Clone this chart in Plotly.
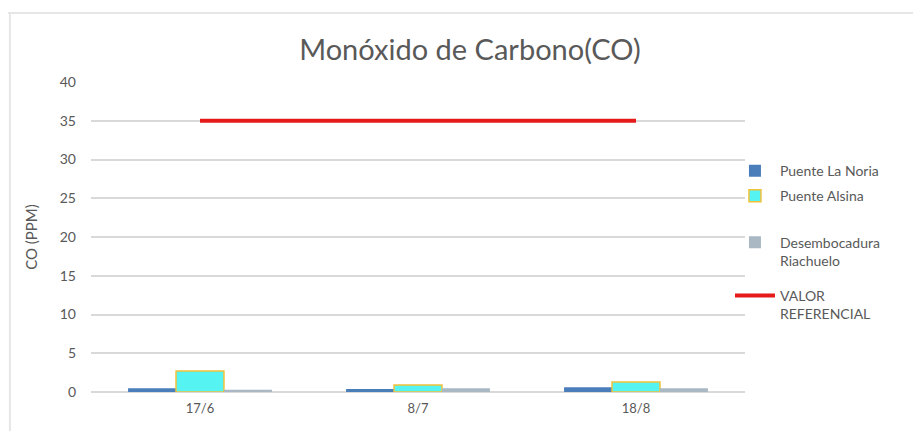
import plotly.graph_objects as go

fechas = ["17/6", "8/7", "18/8"]
puente_la_noria = [0.5, 0.4, 0.6]
puente_alsina = [2.7, 0.9, 1.3]
desembocadura = [0.3, 0.5, 0.5]
valor_referencial = [35, 35, 35]
y_ticks = [0, 5, 10, 15, 20, 25, 30, 35, 40]

txt = "#595959"
font_family = "Lato, 'Open Sans', sans-serif"

fig = go.Figure()
fig.add_trace(go.Bar(x=fechas, y=puente_la_noria, name="Puente La Noria",
                     marker=dict(color="#4A7EBB", line=dict(width=0)),
                     legend="legend"))
fig.add_trace(go.Bar(x=fechas, y=puente_alsina, name="Puente Alsina",
                     marker=dict(color="#55F4F2", line=dict(color="#F2C13A", width=1.5)),
                     legend="legend2"))
fig.add_trace(go.Bar(x=fechas, y=desembocadura, name="Desembocadura<br>Riachuelo",
                     marker=dict(color="#A9B8C2", line=dict(width=0)),
                     legend="legend3"))
fig.add_trace(go.Scatter(x=fechas, y=valor_referencial, name="VALOR<br>REFERENCIAL",
                         mode="lines", line=dict(color="#E51A1A", width=4),
                         legend="legend4"))

leg_font = dict(size=14, color=txt, family=font_family)
def leg(y):
    return dict(x=0.977, xanchor="left", y=y, yanchor="top", valign="top",
                font=leg_font, itemwidth=40, bgcolor="rgba(0,0,0,0)")

fig.update_layout(
    width=913, height=423,
    paper_bgcolor="white", plot_bgcolor="white",
    margin=dict(l=83, r=176, t=74, b=39),
    barmode="group", bargap=0.34, bargroupgap=0,
    font=dict(family=font_family, color=txt, size=13),
    title=dict(text="Monóxido de Carbono(CO)", x=0.506, xanchor="center",
               y=0.90, yanchor="middle",
               font=dict(size=29, color=txt, family=font_family)),
    showlegend=True,
    legend=leg(0.764),
    legend2=leg(0.683),
    legend3=leg(0.533),
    legend4=leg(0.362),
    xaxis=dict(showgrid=False, showline=False, ticks="",
               ticklabelstandoff=7,
               tickfont=dict(size=13, color=txt)),
    yaxis=dict(range=[0, 40], tickvals=y_ticks, showgrid=True,
               gridcolor="#D9D9D9", gridwidth=2, zeroline=True,
               zerolinecolor="#D9D9D9", zerolinewidth=2, ticks="",
               ticklabelstandoff=14,
               tickfont=dict(size=14, color=txt),
               title=dict(text="CO (PPM)", font=dict(size=15, color=txt), standoff=18)),
    shapes=[
        dict(type="line", xref="paper", yref="paper", x0=-0.127, x1=1.27,
             y0=1.2226, y1=1.2226, line=dict(color="#E6E6E6", width=2)),
        dict(type="line", xref="paper", yref="paper", x0=-0.124, x1=-0.124,
             y0=1.2226, y1=-0.13, line=dict(color="#E6E6E6", width=2)),
    ],
)

fig.write_html("out.html")
